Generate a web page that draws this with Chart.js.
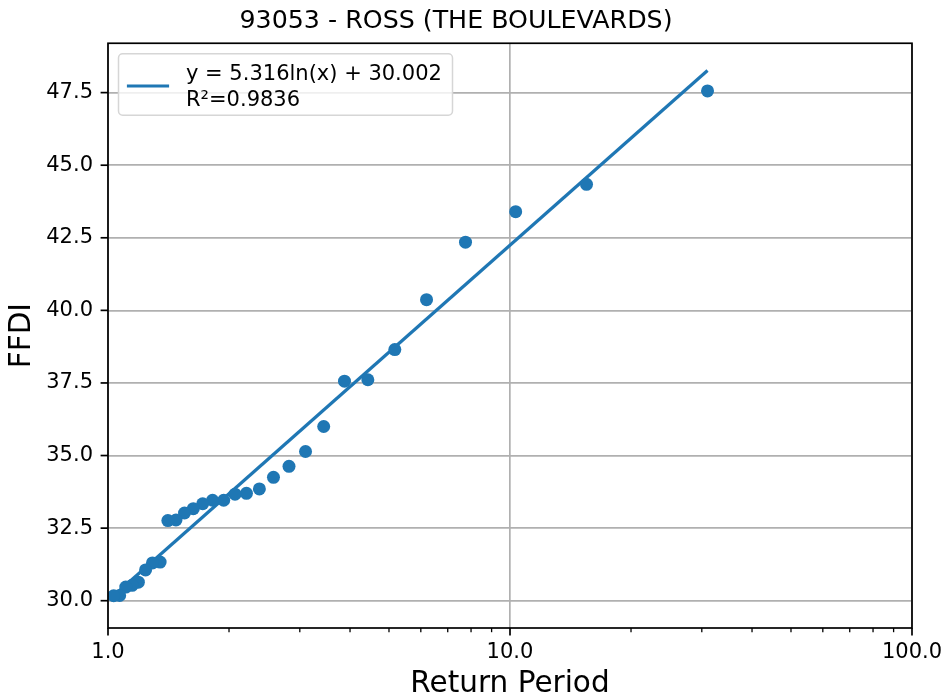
<!DOCTYPE html>
<html><head><meta charset="utf-8">
<script src="https://cdn.jsdelivr.net/npm/chart.js@4/dist/chart.umd.min.js"></script>
<style>html,body{margin:0;padding:0;background:#fff;}#wrap{width:945px;height:697px;}</style>
</head><body><div id="wrap"><canvas id="c" width="945" height="697"></canvas></div>
<script>
const chartTitle = '93053 - ROSS (THE BOULEVARDS)';
const xAxisTitle = 'Return Period';
const yAxisTitle = 'FFDI';
const returnPeriods = [31.0, 15.5, 10.33, 7.75, 6.2, 5.17, 4.43, 3.875, 3.44, 3.1, 2.82, 2.58, 2.38, 2.21, 2.07, 1.94, 1.82, 1.72, 1.63, 1.55, 1.476, 1.409, 1.348, 1.29, 1.24, 1.19, 1.148, 1.107, 1.069, 1.033];
const ffdiValues = [47.56, 44.34, 43.40, 42.35, 40.37, 38.65, 37.61, 37.56, 36.0, 35.14, 34.63, 34.25, 33.85, 33.70, 33.67, 33.46, 33.46, 33.34, 33.17, 33.02, 32.78, 32.76, 31.33, 31.30, 31.06, 30.64, 30.53, 30.47, 30.18, 30.17];
const fitX = [1.033, 31.0];
const fitY = [30.17, 48.26];
const legendLines = ['y = 5.316ln(x) + 30.002', 'R\u00b2=0.9836'];
const xTickValues = [1, 10, 100];
const xTickLabels = ['1.0', '10.0', '100.0'];
const xMinorTickValues = [2, 3, 4, 5, 6, 7, 8, 9, 20, 30, 40, 50, 60, 70, 80, 90];
const yTickValues = [30, 32.5, 35, 37.5, 40, 42.5, 45, 47.5];

const BLUE = '#1f77b4';
const FONT = "'DejaVu Sans', sans-serif";

const scatterData = returnPeriods.map((x, i) => ({x: x, y: ffdiValues[i]}));
const fitData = fitX.map((x, i) => ({x: x, y: fitY[i]}));

const framePlugin = {
  id: 'frame',
  afterDatasetsDraw(chart) {
    const {ctx, chartArea: a, scales: {x, y}} = chart;
    ctx.save();
    const seg = (x1, y1, x2, y2) => { ctx.beginPath(); ctx.moveTo(x1, y1); ctx.lineTo(x2, y2); ctx.stroke(); };
    ctx.strokeStyle = '#000';
    ctx.lineWidth = 1.3;
    xMinorTickValues.forEach(v => { const p = x.getPixelForValue(v); seg(p, a.bottom, p, a.bottom + 4.2); });
    ctx.lineWidth = 1.7;
    xTickValues.forEach(v => { const p = x.getPixelForValue(v); seg(p, a.bottom, p, a.bottom + 7.4); });
    yTickValues.forEach(v => { const p = y.getPixelForValue(v); seg(a.left - 7.4, p, a.left, p); });
    ctx.strokeRect(a.left, a.top, a.right - a.left, a.bottom - a.top);
    // legend
    const lx = a.left + 10.5, ly = a.top + 10.5, lw = 334, lh = 61.5;
    ctx.beginPath();
    ctx.roundRect(lx, ly, lw, lh, 4.2);
    ctx.fillStyle = 'rgba(255,255,255,0.8)';
    ctx.fill();
    ctx.strokeStyle = '#d6d6d6';
    ctx.lineWidth = 1.5;
    ctx.stroke();
    ctx.strokeStyle = BLUE;
    ctx.lineWidth = 3.2;
    seg(lx + 8.4, 86, lx + 8.4 + 42.2, 86);
    ctx.fillStyle = '#000';
    ctx.font = '21px ' + FONT;
    ctx.textBaseline = 'alphabetic';
    ctx.textAlign = 'left';
    ctx.fillText(legendLines[0], lx + 67.5, 80);
    ctx.fillText(legendLines[1], lx + 67.5, 105.5);
    ctx.restore();
  }
};

new Chart(document.getElementById('c'), {
  type: 'scatter',
  data: {
    datasets: [
      {type: 'line', data: fitData, borderColor: BLUE, borderWidth: 3.2, pointRadius: 0, fill: false, tension: 0, order: 2},
      {type: 'scatter', data: scatterData, backgroundColor: BLUE, borderWidth: 0, pointRadius: 6.5, pointHoverRadius: 6.5, order: 1}
    ]
  },
  options: {
    responsive: false,
    animation: false,
    devicePixelRatio: 1,
    layout: {padding: {top: 0, right: 33, bottom: 0, left: 0}},
    plugins: {
      legend: {display: false},
      tooltip: {enabled: false},
      title: {display: true, text: chartTitle, color: '#000', font: {family: FONT, size: 25.3, weight: 'normal'}, padding: {top: 6.5, bottom: 6.4}}
    },
    scales: {
      x: {
        type: 'logarithmic', min: 1, max: 100,
        afterBuildTicks: s => { s.ticks = xTickValues.map(v => ({value: v})); },
        afterFit: s => { s.height = 69; s.paddingLeft = 0; s.paddingRight = 0; },
        ticks: {autoSkip: false, maxRotation: 0, padding: 12, color: '#000', font: {family: FONT, size: 21},
          callback: (v) => { const i = xTickValues.indexOf(v); return i >= 0 ? xTickLabels[i] : ''; }},
        grid: {color: '#b0b0b0', lineWidth: 1.7, drawTicks: false},
        border: {display: false},
        title: {display: true, text: xAxisTitle, color: '#000', font: {family: FONT, size: 29.5}, padding: {top: 0, bottom: -5}}
      },
      y: {
        type: 'linear', min: 29.06, max: 49.2,
        afterBuildTicks: s => { s.ticks = yTickValues.map(v => ({value: v})); },
        afterFit: s => { s.width = 108; s.paddingTop = 0; s.paddingBottom = 0; },
        ticks: {padding: 15, color: '#000', font: {family: FONT, size: 21}, callback: v => Number(v).toFixed(1)},
        grid: {color: '#b0b0b0', lineWidth: 1.7, drawTicks: false},
        border: {display: false},
        title: {display: true, text: yAxisTitle, color: '#000', font: {family: FONT, size: 29.5}, padding: {top: 4.5, bottom: 0}}
      }
    }
  },
  plugins: [framePlugin]
});
</script>
</body></html>
